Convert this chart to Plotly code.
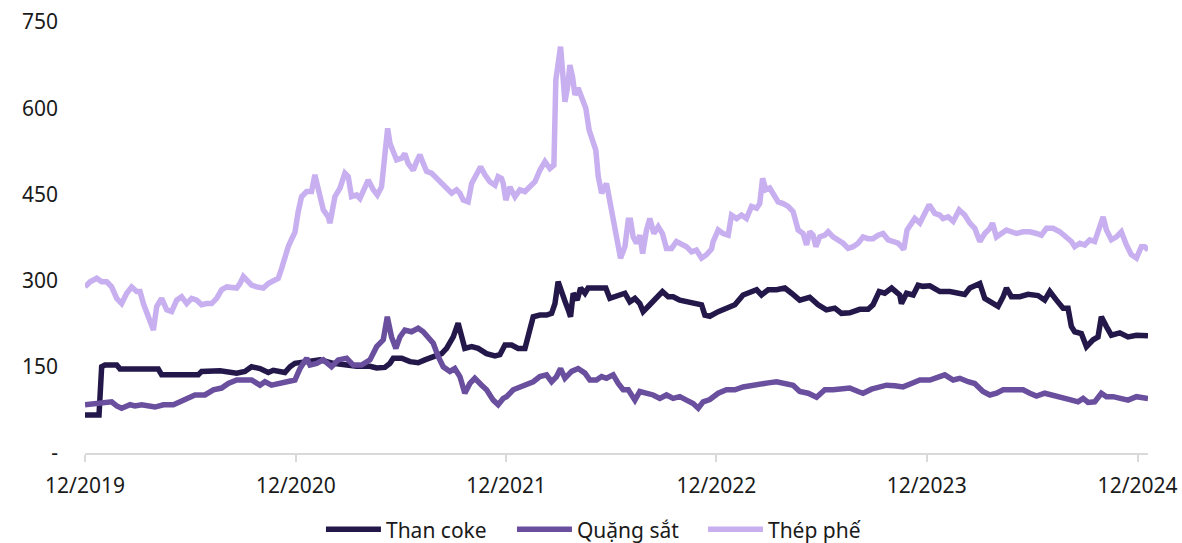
import pandas as pd
import plotly.graph_objects as go

# Time axis: months elapsed since 12/2019, one list per series
start_date = "2019-12-01"
tick_labels = ["12/2019", "12/2020", "12/2021", "12/2022", "12/2023", "12/2024"]
y_ticks = [0, 150, 300, 450, 600, 750]
y_tick_text = ["-", "150", "300", "450", "600", "750"]

coke_t = [0.00, 0.80, 0.95, 1.14, 1.81, 2.00, 4.18, 4.37, 6.46, 6.65, 7.70, 8.65, 9.12, 9.50, 9.98,
          10.45, 10.74, 11.12, 11.40, 11.69, 11.97, 12.64, 13.40, 14.16, 14.73, 15.49, 16.25, 16.63,
          17.10, 17.39, 17.58, 18.06, 18.53, 19.00, 19.38, 19.86, 20.34, 20.62, 21.00, 21.28, 21.48,
          21.66, 22.05, 22.42, 22.90, 23.38, 23.66, 23.95, 24.33, 24.70, 25.09, 25.37, 25.56, 25.94,
          26.32, 26.61, 26.80, 26.98, 27.18, 27.42, 27.56, 27.69, 27.84, 28.07, 28.26, 28.51, 28.69,
          29.70, 29.93, 30.31, 30.79, 31.07, 31.36, 31.64, 31.83, 32.21, 32.59, 32.93, 33.26, 33.54,
          33.92, 34.30, 34.78, 35.16, 35.35, 35.63, 36.11, 36.58, 37.06, 37.53, 38.01, 38.30, 38.58,
          38.96, 39.44, 39.91, 40.29, 40.76, 41.33, 41.81, 42.28, 42.76, 43.14, 43.61, 44.18, 44.66,
          44.94, 45.29, 45.61, 46.00, 46.46, 46.56, 46.85, 47.23, 47.51, 47.79, 48.18, 48.75, 49.32,
          49.89, 50.17, 50.46, 51.03, 51.31, 51.69, 52.07, 52.36, 52.55, 52.83, 53.31, 53.78, 54.35,
          54.73, 55.02, 55.40, 55.78, 56.06, 56.25, 56.44, 56.82, 57.11, 57.49, 57.77, 57.96, 58.25,
          58.53, 59.01, 59.48, 59.96, 60.62]
coke_v = [66, 66, 150, 153, 153, 146, 146, 136, 136, 142, 143, 139, 142, 150, 147,
          140, 144, 142, 140, 150, 156, 159, 162, 156, 153, 151, 151, 148,
          149, 156, 165, 165, 159, 157, 162, 168, 173, 182, 202, 226, 197,
          182, 185, 182, 173, 169, 171, 188, 188, 182, 182, 214, 237, 240,
          240, 243, 260, 298, 278, 260, 249, 237, 278, 266, 287, 278, 287,
          287, 269, 272, 278, 263, 269, 260, 246, 258, 272, 281, 272, 272,
          266, 263, 260, 258, 240, 238, 246, 252, 258, 275, 281, 284, 275,
          284, 284, 287, 278, 266, 271, 258, 249, 252, 243, 244, 250, 250,
          258, 281, 278, 287, 275, 260, 278, 275, 292, 290, 291, 281, 281,
          278, 276, 287, 295, 269, 263, 255, 272, 287, 272, 272, 276, 274,
          266, 281, 266, 252, 252, 220, 211, 208, 185, 197, 202, 237, 220,
          205, 209, 202, 205, 204]

ore_t = [0.00, 0.67, 1.52, 1.81, 2.09, 2.57, 2.85, 3.23, 3.61, 3.99, 4.47, 5.04, 5.42, 5.80, 6.27,
         6.84, 7.32, 7.79, 8.17, 8.65, 9.03, 9.50, 9.98, 10.26, 10.64, 11.12, 11.59, 11.97, 12.26,
         12.64, 12.83, 13.21, 13.59, 14.06, 14.44, 14.92, 15.30, 15.77, 16.25, 16.63, 17.01, 17.24,
         17.48, 17.73, 17.96, 18.24, 18.62, 19.00, 19.29, 19.57, 19.86, 20.14, 20.43, 20.81, 21.09,
         21.38, 21.66, 21.95, 22.23, 22.62, 22.90, 23.28, 23.56, 23.85, 24.04, 24.42, 24.80, 25.18,
         25.56, 25.94, 26.32, 26.61, 26.89, 27.12, 27.37, 27.75, 28.12, 28.51, 28.79, 29.17, 29.46,
         29.74, 30.12, 30.41, 30.69, 30.98, 31.36, 31.64, 32.02, 32.40, 32.78, 33.16, 33.54, 33.92,
         34.30, 34.68, 34.97, 35.25, 35.63, 36.11, 36.58, 37.06, 37.53, 38.01, 38.48, 38.96, 39.44,
         39.91, 40.38, 40.76, 41.24, 41.72, 42.19, 42.66, 43.14, 43.61, 44.09, 44.37, 44.85, 45.32,
         45.71, 46.18, 46.65, 47.13, 47.61, 48.18, 48.56, 49.03, 49.51, 49.89, 50.36, 50.74, 51.21,
         51.60, 51.98, 52.36, 52.93, 53.50, 53.88, 54.26, 54.73, 55.21, 55.68, 56.16, 56.63, 56.92,
         57.20, 57.58, 57.96, 58.25, 58.63, 59.01, 59.48, 59.96, 60.62]
ore_v = [84, 86, 89, 82, 78, 84, 82, 84, 81, 80, 84, 84, 89, 95, 101,
         101, 110, 113, 121, 127, 128, 127, 118, 124, 118, 121, 124, 127, 147,
         165, 153, 156, 162, 150, 162, 165, 153, 153, 162, 185, 197, 237,
         202, 182, 202, 214, 211, 217, 211, 202, 191, 168, 150, 142, 147,
         133, 104, 121, 130, 118, 110, 92, 84, 95, 98, 110, 115, 118,
         124, 133, 136, 124, 133, 147, 130, 142, 147, 139, 127, 127, 133,
         130, 136, 121, 110, 110, 92, 107, 104, 101, 95, 101, 95, 98,
         92, 86, 78, 89, 93, 104, 110, 110, 115, 118, 121, 122, 124,
         121, 118, 107, 104, 97, 110, 110, 111, 113, 107, 104, 111, 115,
         118, 117, 115, 121, 127, 127, 130, 136, 127, 130, 124, 121, 107,
         101, 104, 110, 110, 110, 104, 99, 104, 101, 98, 93, 89, 95,
         88, 89, 104, 98, 98, 95, 92, 98, 95]

scrap_t = [0.00, 0.29, 0.67, 0.95, 1.24, 1.52, 1.81, 2.09, 2.38, 2.66, 2.95, 3.14, 3.33, 3.52, 3.71,
           3.90, 4.09, 4.37, 4.66, 4.94, 5.23, 5.51, 5.80, 6.08, 6.37, 6.65, 6.94, 7.22, 7.51, 7.79,
           8.08, 8.36, 8.65, 8.84, 9.03, 9.22, 9.50, 9.79, 10.17, 10.45, 10.74, 11.02, 11.21, 11.40,
           11.59, 11.78, 11.97, 12.16, 12.35, 12.64, 12.92, 13.11, 13.30, 13.59, 13.87, 13.97, 14.25,
           14.54, 14.82, 15.01, 15.20, 15.49, 15.68, 15.96, 16.15, 16.44, 16.67, 16.91, 17.10, 17.26,
           17.39, 17.58, 17.77, 18.06, 18.24, 18.43, 18.72, 18.91, 19.10, 19.29, 19.48, 19.76, 20.05,
           20.34, 20.62, 20.91, 21.19, 21.38, 21.57, 21.85, 22.05, 22.33, 22.56, 22.81, 23.09, 23.38,
           23.56, 23.75, 23.85, 24.00, 24.23, 24.52, 24.80, 25.09, 25.37, 25.66, 25.94, 26.23, 26.51,
           26.74, 26.85, 26.98, 27.12, 27.23, 27.37, 27.52, 27.65, 27.80, 27.94, 28.12, 28.32, 28.56,
           28.75, 28.94, 29.13, 29.27, 29.46, 29.74, 29.99, 30.22, 30.41, 30.54, 30.79, 30.98, 31.11,
           31.26, 31.45, 31.64, 31.80, 32.02, 32.21, 32.44, 32.69, 32.93, 33.16, 33.45, 33.73, 34.02,
           34.30, 34.59, 34.87, 35.16, 35.44, 35.73, 35.82, 36.11, 36.39, 36.68, 36.87, 37.16, 37.44,
           37.72, 38.01, 38.30, 38.48, 38.64, 38.83, 39.05, 39.24, 39.53, 39.81, 40.10, 40.38, 40.67,
           40.95, 41.15, 41.33, 41.52, 41.68, 41.90, 42.19, 42.38, 42.66, 42.95, 43.23, 43.52, 43.80,
           44.09, 44.37, 44.66, 44.94, 45.23, 45.51, 45.80, 46.08, 46.37, 46.56, 46.69, 46.88, 47.04,
           47.32, 47.61, 47.79, 48.14, 48.46, 48.75, 48.93, 49.22, 49.51, 49.85, 50.17, 50.46, 50.74,
           51.03, 51.31, 51.60, 51.75, 51.98, 52.26, 52.55, 52.83, 53.12, 53.50, 53.88, 54.26, 54.54,
           54.83, 55.21, 55.59, 55.97, 56.25, 56.44, 56.73, 57.01, 57.30, 57.58, 57.87, 58.06, 58.25,
           58.53, 58.82, 59.10, 59.39, 59.67, 59.96, 60.24, 60.43, 60.62]
scrap_v = [289, 298, 304, 298, 298, 289, 269, 260, 278, 289, 281, 281, 260, 243, 231,
           214, 255, 269, 249, 246, 266, 272, 260, 269, 266, 258, 260, 260, 269, 284,
           289, 287, 287, 295, 307, 301, 292, 289, 287, 295, 301, 304, 321, 342,
           359, 372, 384, 420, 446, 455, 455, 484, 463, 423, 411, 400, 446,
           461, 487, 481, 446, 449, 443, 463, 475, 458, 449, 463, 527, 565,
           539, 527, 510, 513, 521, 504, 492, 507, 519, 504, 490, 487, 478,
           472, 461, 452, 458, 452, 440, 437, 469, 487, 498, 484, 472, 466,
           481, 478, 469, 440, 463, 446, 458, 455, 463, 472, 492, 507, 495,
           501, 649, 678, 707, 666, 611, 637, 675, 655, 623, 635, 620, 600,
           562, 542, 527, 481, 452, 469, 429, 388, 359, 339, 359, 405, 405,
           376, 365, 379, 347, 388, 408, 382, 394, 382, 356, 356, 368, 362,
           359, 350, 353, 339, 345, 355, 368, 388, 382, 379, 414, 408, 414,
           408, 429, 426, 434, 478, 458, 461, 452, 437, 434, 429, 420, 388,
           382, 362, 385, 379, 359, 376, 379, 385, 376, 371, 365, 356, 359,
           365, 376, 373, 373, 379, 382, 371, 368, 365, 359, 354, 388, 397,
           408, 400, 411, 432, 417, 414, 408, 411, 403, 423, 414, 400, 391,
           368, 382, 391, 400, 376, 382, 388, 385, 382, 385, 385, 382, 379,
           391, 391, 385, 376, 368, 359, 365, 362, 371, 368, 394, 411, 388,
           371, 376, 385, 362, 345, 339, 359, 359, 353]

series = [
    ("Than coke", coke_t, coke_v, "#24184b"),
    ("Quặng sắt", ore_t, ore_v, "#6a4f9e"),
    ("Thép phế", scrap_t, scrap_v, "#c8b0f0"),
]

t0 = pd.Timestamp(start_date)


def to_dates(ts):
    return [t0 + pd.Timedelta(days=m * 30.4375) for m in ts]


fig = go.Figure()
for name, ts, vs, color in series:
    fig.add_trace(go.Scatter(
        x=to_dates(ts), y=vs, mode="lines", name=name,
        line=dict(color=color, width=5.5),
    ))

tick_dates = pd.date_range(start_date, periods=len(tick_labels), freq="12MS")
x_end = to_dates([max(coke_t)])[0]

fig.update_layout(
    width=1182, height=543,
    margin=dict(l=85, r=34, t=22, b=90, autoexpand=False),
    paper_bgcolor="white", plot_bgcolor="white",
    font=dict(family="Noto Sans", size=21, color="#1a1a1a"),
    showlegend=True,
    legend=dict(orientation="h", x=0.4915, xanchor="center", y=-0.178, yanchor="middle",
                font=dict(size=21), itemwidth=55, entrywidth=121, entrywidthmode="pixels",
                traceorder="normal", bgcolor="rgba(0,0,0,0)"),
)
fig.update_xaxes(
    type="date", range=[t0, x_end], automargin=False,
    tickmode="array", tickvals=list(tick_dates), ticktext=tick_labels,
    showgrid=False, showline=True, linecolor="#d9d9d9", linewidth=1.5,
    ticks="outside", ticklen=7, tickcolor="#d9d9d9", tickwidth=1.5,
    ticklabelstandoff=6, zeroline=False,
)
fig.update_yaxes(
    range=[0, 750], automargin=False,
    tickmode="array", tickvals=y_ticks, ticktext=y_tick_text,
    showgrid=False, showline=False, zeroline=False, ticks="",
    ticklabelstandoff=26,
)

fig.write_html(
    "out.html",
    config={"displayModeBar": False},
    post_script="document.body.style.margin='0';document.body.style.overflow='hidden';",
)
